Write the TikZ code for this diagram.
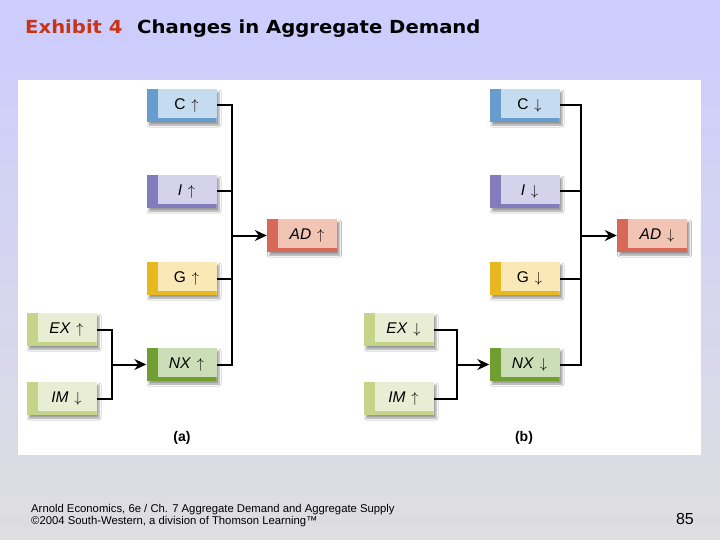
\documentclass[tikz,border=0pt]{standalone}
\usepackage{fontspec}
\setmainfont{Liberation Sans}
\newfontfamily\titlefont{DejaVu Sans}
\usetikzlibrary{arrows.meta,shadows.blur}
\definecolor{bgtop}{RGB}{204,204,255}
\definecolor{bgbot}{RGB}{222,222,224}
\definecolor{cL}{RGB}{197,220,240}
\definecolor{cD}{RGB}{104,156,206}
\definecolor{iL}{RGB}{213,211,236}
\definecolor{iD}{RGB}{130,124,190}
\definecolor{gL}{RGB}{251,232,183}
\definecolor{gD}{RGB}{232,184,32}
\definecolor{adL}{RGB}{241,196,180}
\definecolor{adD}{RGB}{216,104,88}
\definecolor{nxL}{RGB}{204,222,184}
\definecolor{nxD}{RGB}{112,158,48}
\definecolor{eL}{RGB}{233,237,212}
\definecolor{eD}{RGB}{198,212,138}
\definecolor{titlered}{RGB}{200,52,22}
\tikzset{
  box/.style 2 args={rectangle, minimum width=70pt, minimum height=33pt, inner sep=0pt, fill=#1,
    blur shadow={shadow xshift=2.5pt, shadow yshift=-3pt, shadow blur radius=2pt, shadow opacity=40},
    font=\fontsize{15.5}{15.5}\selectfont,
    path picture={\fill[#2] (path picture bounding box.north west) rectangle ([xshift=11pt]path picture bounding box.south west);
      \fill[#2] (path picture bounding box.south west) rectangle ([yshift=4pt]path picture bounding box.south east);}},
  wire/.style={line width=2pt, line join=miter, draw=black},
  feed/.style={wire, -{Stealth[length=12pt,width=11pt,inset=4pt]}},
  panlabel/.style={font=\bfseries\fontsize{14}{14}\selectfont},
  foot/.style={anchor=base west, inner sep=0pt, font=\fontsize{11.3}{12}\selectfont},
  ttl/.style={anchor=base west, inner sep=0pt, font=\titlefont\bfseries\fontsize{18}{18}\selectfont}
}
\newcommand{\bt}[1]{\raisebox{1.5pt}{\hspace*{10pt}#1}}
\newcommand{\up}{\hspace{1.5pt}$\uparrow$}
\newcommand{\dn}{\hspace{1.5pt}$\downarrow$}
\begin{document}
\begin{tikzpicture}[x=1pt,y=-1pt]
\path[use as bounding box] (0,0) rectangle (720,540);
\shade[top color=bgtop, bottom color=bgbot] (0,0) rectangle (720,540);
\fill[white] (18,80) rectangle (701,455);

\node[ttl, text=titlered] (t1) at (25,34) {\scalebox{1.09}[1]{Exhibit 4}};
\node[ttl] (t2) at (137,34) {\scalebox{1.09}[1]{Changes in Aggregate Demand}};

% coordinates for buses
\coordinate (bus1) at (232,0);
\coordinate (sub1) at (112,0);
\coordinate (bus2) at (581,0);
\coordinate (sub2) at (457,0);

% panel (a)
\node[box={cL}{cD}] (C1) at (181.5,105.5) {\bt{C \up}};
\node[box={iL}{iD}] (I1) at (181.5,191.5) {\bt{\textit{I} \up}};
\node[box={gL}{gD}] (G1) at (181.5,278.5) {\bt{G \up}};
\node[box={nxL}{nxD}] (NX1) at (181.5,364.5) {\bt{\textit{NX} \up}};
\node[box={adL}{adD}] (AD1) at (302,235.5) {\bt{\textit{AD} \up}};
\node[box={eL}{eD}] (EX1) at (61.5,329.5) {\bt{\textit{EX} \up}};
\node[box={eL}{eD}] (IM1) at (61.5,398.5) {\bt{\textit{IM} \dn}};

\draw[wire] (C1.east) -- (C1.east -| bus1) |- (NX1.east);
\draw[wire] (I1.east) -- (I1.east -| bus1);
\draw[wire] (G1.east) -- (G1.east -| bus1);
\draw[feed] (AD1.west -| bus1) -- (AD1.west);
\draw[wire] (EX1.east) -- (EX1.east -| sub1) |- (IM1.east);
\draw[feed] (NX1.west -| sub1) -- (NX1.west);

% panel (b)
\node[box={cL}{cD}] (C2) at (524.5,105.5) {\bt{C \dn}};
\node[box={iL}{iD}] (I2) at (524.5,191.5) {\bt{\textit{I} \dn}};
\node[box={gL}{gD}] (G2) at (524.5,278.5) {\bt{G \dn}};
\node[box={nxL}{nxD}] (NX2) at (524.5,364.5) {\bt{\textit{NX} \dn}};
\node[box={adL}{adD}] (AD2) at (652,235.5) {\bt{\textit{AD} \dn}};
\node[box={eL}{eD}] (EX2) at (398.5,329.5) {\bt{\textit{EX} \dn}};
\node[box={eL}{eD}] (IM2) at (398.5,398.5) {\bt{\textit{IM} \up}};

\draw[wire] (C2.east) -- (C2.east -| bus2) |- (NX2.east);
\draw[wire] (I2.east) -- (I2.east -| bus2);
\draw[wire] (G2.east) -- (G2.east -| bus2);
\draw[feed] (AD2.west -| bus2) -- (AD2.west);
\draw[wire] (EX2.east) -- (EX2.east -| sub2) |- (IM2.east);
\draw[feed] (NX2.west -| sub2) -- (NX2.west);

\node[panlabel] (la) at (182,438) {(a)};
\node[panlabel] (lb) at (524,438) {(b)};

\node[foot] (f1) at (31,512) {Arnold Economics, 6e / Ch. 7 Aggregate Demand and Aggregate Supply};
\node[foot] (f2) at (31,524) {©2004 South-Western, a division of Thomson Learning™};
\node[anchor=base east, inner sep=0pt, font=\fontsize{16}{16}\selectfont] (pg) at (694,524) {85};
\end{tikzpicture}
\end{document}
